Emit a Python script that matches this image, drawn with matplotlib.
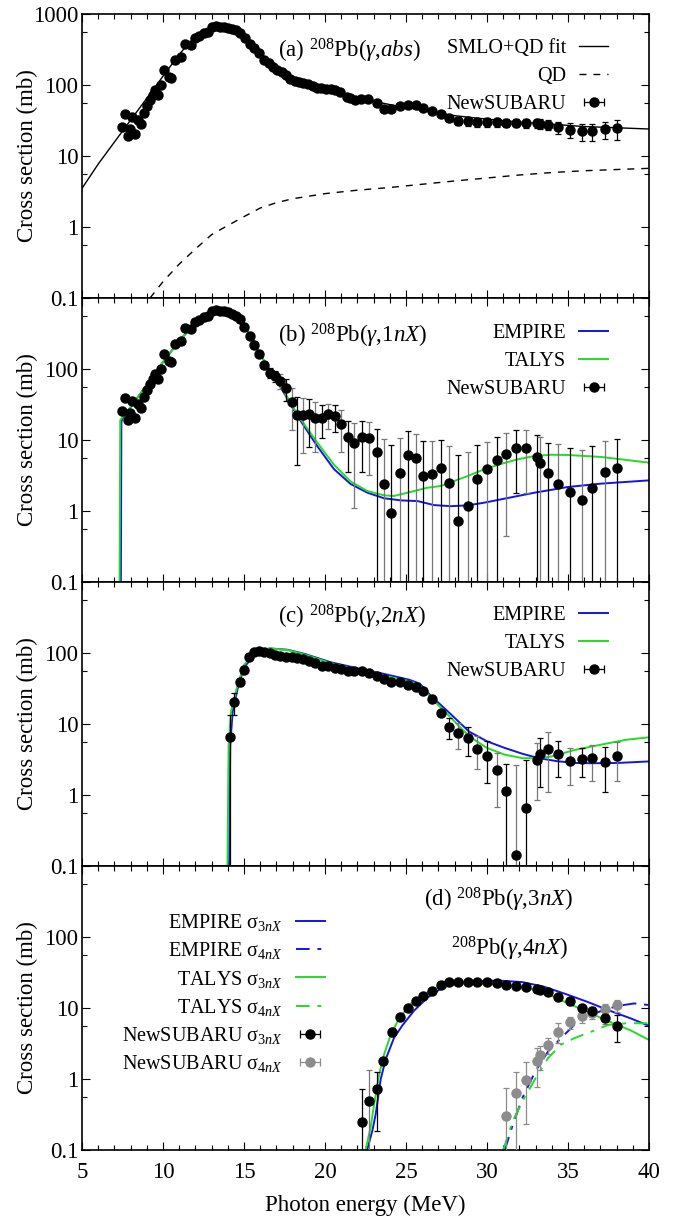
import numpy as np
import matplotlib
matplotlib.use('Agg')
import matplotlib.pyplot as plt
from matplotlib.ticker import FixedLocator, NullFormatter

plt.rcParams['font.family'] = ['Liberation Serif', 'DejaVu Serif']
plt.rcParams['mathtext.fontset'] = 'custom'
plt.rcParams['mathtext.rm'] = 'Liberation Serif'
plt.rcParams['mathtext.it'] = 'Liberation Serif:italic'
plt.rcParams['mathtext.bf'] = 'Liberation Serif:bold'

# ---------------- data: panel (a) photoabsorption ----------------
E_a = [7.49, 7.68, 7.82, 7.98, 8.11, 8.27, 8.46, 8.65, 8.83, 9.02, 9.18, 9.37, 9.50, 9.69, 9.88,
       10.09, 10.34, 10.52, 10.76, 11.11, 11.38, 11.70, 11.97, 12.24, 12.53, 12.80, 13.04, 13.26,
       13.53, 13.79, 14.04, 14.28, 14.52, 14.73, 15.05, 15.35, 15.64, 15.94, 16.23, 16.53, 16.80,
       17.06, 17.33, 17.60, 17.87, 18.14, 18.40, 18.67, 18.97, 19.24, 19.50, 19.77, 20.04, 20.36,
       20.63, 20.90, 21.35, 21.57, 21.84, 22.24, 22.67, 23.18, 23.63, 24.10, 24.60, 25.10, 25.60,
       26.07, 26.60, 27.14, 27.68, 28.20, 28.80, 29.40, 30.00, 30.60, 31.20, 31.80, 32.40, 33.10,
       33.30, 33.77, 34.40, 35.10, 35.86, 36.50, 37.30, 38.00]
sig_a = [26, 38.6, 18.9, 24, 36, 20.6, 31.8, 28.5, 40, 50, 62, 73, 84, 72, 99, 165, 130, 127, 224,
         244, 384, 365, 453, 489, 533, 563, 649, 677, 662, 649, 641, 620, 591, 545, 453, 373, 334,
         278, 224, 201, 180, 165, 153, 137, 123, 113, 111, 105, 102, 96, 92, 92, 89, 89, 86, 80, 68,
         66, 62, 64, 64, 55, 46, 46, 50, 53, 52, 48, 43, 39.5, 34.7, 31, 30.8, 30, 30, 29.8, 29.5,
         29.5, 29, 29, 28.5, 27.6, 25.6, 23.6, 22.3, 22.3, 24, 24.5]
err_a = [1, 1.5, 1, 1, 1.5, 1, 1.5, 1.5, 2, 2, 2.5, 3, 3, 3, 4, 6,
         5, 5, 8, 8, 12, 12, 14, 15, 16, 17, 18, 19, 19, 18, 18, 17, 16, 15, 14, 12, 11, 10, 9, 8, 8,
         9, 9, 9, 9, 9, 9, 9, 9, 8, 8, 8, 8, 7, 7, 7, 6, 6, 6, 6, 6,
         5, 5, 5, 4, 4, 4, 4, 4, 3.5, 3.5, 4, 4, 4, 4, 4, 4, 4, 4.5, 4.5, 4.5, 4.5, 5, 5.5, 6, 6,
         6.5, 7.5]

fit_E = [5, 6, 7, 8, 9, 10, 11, 11.5, 12, 12.5, 13, 13.5, 14, 14.5, 15, 15.5, 16, 16.5, 17, 17.5,
         18, 19, 20, 21, 22, 23, 24, 26, 28, 30, 32, 34, 36, 38, 40]
fit_sig = [3.5, 7.7, 15.7, 32, 65, 133, 270, 365, 450, 540, 625, 660, 630, 580, 470, 370, 270, 205,
           168, 140, 118, 98, 86, 76, 67, 59, 53, 44, 37, 33, 30, 28, 26, 25, 24]
qd_E = [9.2, 10, 11, 12, 13, 13.4, 14, 15, 16, 17, 18, 20, 22, 24, 26, 28, 30, 32, 34, 36, 38, 40]
qd_sig = [0.1, 0.17, 0.3, 0.49, 0.78, 0.88, 1.05, 1.4, 1.85, 2.2, 2.5, 2.95, 3.3, 3.6, 4.0, 4.45,
          4.9, 5.4, 5.85, 6.2, 6.45, 6.7]

# ---------------- panel (b) (g,1nX) ----------------
E_b = [7.49, 7.68, 7.82, 7.98, 8.11, 8.27, 8.46, 8.65, 8.83, 9.02, 9.18, 9.37, 9.50, 9.69, 9.88,
       10.09, 10.34, 10.52, 10.76, 11.11, 11.38, 11.70, 11.97, 12.24, 12.53, 12.80, 13.04, 13.26,
       13.53, 13.79, 14.04, 14.28, 14.52, 14.73,
       15.0, 15.35, 15.6, 15.94, 16.26, 16.58, 16.9, 17.22, 17.57, 17.95, 18.3, 18.67, 19.0, 19.4,
       19.8, 20.2, 20.6, 21.0, 21.4, 21.8, 22.3, 22.72, 23.18, 23.63, 24.1, 24.6, 25.1, 25.6,
       26.07, 26.6, 27.14, 27.68, 28.2, 28.8, 29.4, 30.0, 30.6, 31.2, 31.8, 32.4, 33.1, 33.3,
       33.77, 34.4, 35.1, 35.86, 36.5, 37.3, 38.0]
sig_b = [26, 38.6, 18.9, 24, 36, 20.6, 31.8, 28.5, 40, 50, 62, 73, 84, 72, 99, 165, 130, 127, 224,
         244, 384, 365, 453, 489, 533, 563, 649, 677, 662, 649, 630, 600, 560, 500,
         390, 288, 221, 164, 113, 89, 80, 68, 53.5, 34, 22.5, 22.5, 23, 20.7, 20.7, 23.3, 22, 16.7,
         11, 9.1, 11, 10.7, 6.8, 2.4, 0.94, 3.4, 6.2, 5.5, 3.1, 3.3, 4.0, 2.45, 0.72, 1.19, 2.8,
         3.86, 5.3, 6.45, 7.8, 7.8, 5.7, 4.8, 3.4, 2.4, 1.88, 1.44, 2.1, 3.57, 4.06]
err_b = [1, 1.5, 1, 1, 1.5, 1, 1.5, 1.5, 2, 2, 2.5, 3, 3, 3, 4, 6,
         5, 5, 8, 8, 12, 12, 14, 15, 16, 17, 18, 19, 19, 18, 18, 17, 16, 15,
         10, 10, 10, 10, 12, 14, 15, 16, 18, 20, 18, 16, 15, 14, 10, 9, 9, 10, 7.5, 8,
         7.5, 7.5, 7.3, 7.8, 7.5, 7.4, 7.2, 6.8, 6.6, 6.4, 6, 5.8, 5.4, 5.6, 5.7, 5.5, 5.7, 6, 6, 6,
         6, 6.2, 5.7, 6.3, 5.9, 5.8, 6, 6, 6.4]

emp_b_E = [7.40, 7.43, 7.5, 8, 9, 10, 11, 12, 12.5, 13, 13.5, 14, 14.5, 15, 15.5, 16, 16.5, 17.05,
           17.6, 18.29, 19.52, 20.55, 21.58, 22.62, 23.65, 24.7, 25.71, 26.74, 27.78, 28.8, 29.83,
           30.87, 32.93, 35.0, 37.05, 40.0]
emp_b = [0.1, 18, 20, 29, 60, 125, 250, 440, 540, 620, 650, 610, 520, 400, 280, 160, 105, 66, 41,
         21.9, 8.2, 3.9, 2.4, 1.81, 1.51, 1.41, 1.38, 1.21, 1.17, 1.2, 1.31, 1.46, 1.81, 2.18, 2.43,
         2.7]
tal_b_E = [7.32, 7.36, 7.5, 8, 9, 10, 11, 12, 12.5, 13, 13.5, 14, 14.5, 15, 15.5, 16, 16.5, 17.05,
           17.6, 18.29, 19.52, 20.55, 21.58, 22.62, 23.65, 24.26, 25.09, 26.33, 27.15, 27.98, 28.8,
           29.83, 30.87, 31.9, 32.93, 33.96, 35.0, 37.05, 38.7, 40.0]
tal_b = [0.1, 19, 21, 29, 60, 125, 250, 440, 540, 620, 650, 610, 520, 400, 280, 160, 105, 68, 43,
         23, 9.2, 4.5, 2.6, 1.91, 1.66, 1.63, 1.81, 2.13, 2.25, 2.65, 3.1, 3.87, 4.6, 5.35, 5.95,
         6.2, 6.15, 5.77, 5.2, 4.8]

# ---------------- panel (c) (g,2nX) ----------------
E_c = [14.14, 14.41, 14.73, 15.0, 15.32, 15.62, 15.94, 16.26, 16.58, 16.9, 17.22, 17.57, 17.95,
       18.3, 18.67, 19.0, 19.4, 19.8, 20.2, 20.6, 21.0, 21.4, 21.8, 22.3, 22.72, 23.18, 23.63,
       24.1, 24.6, 25.1, 25.6, 26.07, 26.6, 27.14, 27.68, 28.2, 28.8, 29.4, 30.0, 30.6, 31.2,
       31.8, 32.4, 33.1, 33.3, 33.77, 34.4, 35.1, 35.86, 36.5, 37.3, 38.0]
sig_c = [6.5, 20.5, 39, 58.5, 87, 102, 108, 104, 100, 94, 91, 89, 87, 85, 82, 78, 72.5, 66.5, 65,
         62, 60, 56, 55, 55, 52, 48, 42.5, 39, 39, 35.7, 33, 28.8, 22.3, 14.4, 9.2, 7.4, 6.3, 4.5,
         3.57, 2.28, 1.14, 0.141, 0.65, 3.15, 3.78, 4.4, 3.8, 2.98, 3.2, 3.3, 2.92, 3.6]
err_c = [7, 7, 5, 7, 6, 5, 4, 4, 4, 4, 4, 4, 4, 4, 4, 3, 3, 3, 3, 3, 3, 3, 3, 3, 3, 3, 3, 2.5,
         2.5, 2.5, 2.5, 2, 2, 1.5, 3, 3, 2.8, 2.2, 2.1, 1.6, 1.63, 2.5, 2.5, 2.3, 2.5, 3.3, 2.0,
         1.6, 1.4, 1.7, 1.8, 2.0]

emp_c_E = [14.08, 14.15, 14.3, 14.6, 15.0, 15.54, 16.07, 16.6, 17.7, 18.75, 20.36, 22.0, 23.6,
           25.2, 25.86, 26.5, 27.6, 28.9, 30.0, 31.1, 32.2, 33.2, 34.3, 35.4, 36.4, 38.1, 40]
emp_c = [0.1, 5, 15, 31, 63, 87, 108, 116, 111, 97, 74, 61, 51, 42, 37, 25.4, 14.9, 7.8, 5.7,
         4.6, 3.8, 3.3, 3.0, 2.83, 2.8, 2.83, 2.97]
tal_c_E = [13.98, 14.05, 14.2, 14.6, 15.0, 15.54, 16.07, 16.6, 17.7, 18.75, 20.36, 22.0, 23.6,
           25.2, 25.86, 26.5, 27.6, 28.9, 30.0, 31.1, 32.2, 33.2, 34.0, 35.4, 37.0, 38.6, 40]
tal_c = [0.1, 5, 15, 35, 68, 95, 112, 116, 110, 95, 72, 58, 48, 40, 35, 24, 13.4, 6.7, 4.6, 3.7,
         3.3, 3.3, 3.5, 4.3, 5.1, 6.0, 6.5]

# ---------------- panel (d) (g,3nX), (g,4nX) ----------------
E_d3 = [22.29, 22.72, 23.18, 23.6, 24.14, 24.6, 25.1, 25.6, 26.07, 26.6, 27.14, 27.68, 28.2,
        28.8, 29.4, 30.0, 30.6, 31.2, 31.8, 32.4, 33.1, 33.3, 33.77, 34.4, 35.1, 35.86, 36.5,
        37.3, 38.0]
sig_d3 = [0.25, 0.486, 0.715, 1.77, 4.65, 7.5, 10.1, 12.6, 14.8, 17.3, 20.8, 23.1, 23.6, 23.1,
          23.1, 23.1, 22.4, 21.2, 20.3, 19.7, 18.7, 18.1, 16.8, 14.3, 12.4, 10.0, 9.0, 7.3, 5.6]
err_d3 = [0.48, 0.85, 0.53, 0.2, 0.6, 0.6, 0.7, 0.8, 0.9, 1.2, 1.2, 1.0, 1.0, 1.0, 1.0, 1.0, 1.0,
          1.0, 1.0, 1.0, 1.2, 1.2, 1.2, 1.5, 1.3, 1.2, 1.2, 1.4, 2.3]
E_d4 = [31.2, 31.8, 32.4, 33.1, 33.3, 33.77, 34.4, 35.1, 35.86, 36.5, 37.3, 38.0]
sig_d4 = [0.304, 0.643, 0.975, 1.77, 2.15, 3.03, 4.65, 6.27, 7.7, 8.55, 9.8, 10.9]
err_d4 = [0.45, 0.6, 0.74, 1.0, 0.8, 0.8, 1.4, 1.2, 1.6, 1.5, 1.6, 2.0]

emp3_E = [22.6, 22.93, 23.13, 23.44, 23.75, 24.26, 24.78, 25.5, 26.33, 27.15, 27.98, 29.0, 30.8,
          32.2, 33.5, 34.8, 36.2, 37.5, 38.9, 40]
emp3 = [0.1, 0.19, 0.32, 1.0, 1.9, 3.8, 5.7, 9.2, 14, 18.7, 22.3, 23.8, 24.3, 23.1, 20, 15.9,
        12.2, 9.3, 7.1, 5.6]
tal3_E = [22.5, 22.82, 23.03, 23.34, 23.64, 24.06, 24.57, 25.3, 26.12, 27.15, 28.2, 29.5, 30.8,
          32.2, 33.5, 34.8, 36.2, 37.5, 38.9, 40]
tal3 = [0.1, 0.21, 0.44, 1.15, 2.2, 4.2, 7.1, 11.5, 15.8, 20, 21.9, 22, 21.2, 19.7, 16.8, 12.2,
        8.8, 6.5, 4.8, 3.55]
emp4_E = [31.1, 31.6, 32.2, 33.0, 33.77, 34.57, 35.4, 36.2, 37.0, 38.05, 39.1, 40]
emp4 = [0.1, 0.23, 0.55, 1.3, 2.44, 3.77, 5.8, 7.5, 9.0, 10.7, 11.6, 11.0]
tal4_E = [31.0, 31.6, 32.2, 33.0, 33.77, 34.57, 35.4, 36.45, 37.5, 38.6, 40]
tal4 = [0.1, 0.26, 0.49, 1.03, 1.97, 3.05, 3.77, 4.65, 5.8, 6.1, 6.1]

x_ticks = [5, 10, 15, 20, 25, 30, 35, 40]
y_ticks = [0.1, 1, 10, 100, 1000]
y_ticklabels = ['0.1', '1', '10', '100', '1000']

# ---------------- styling ----------------
FS = 16.5
LFS = 14.5
BLUE = '#1414e6'
GREEN = '#22dd22'
GRAY_BAR = '#777777'
GRAY_PT = '#8c8c8c'

fig = plt.figure(figsize=(6.8, 12.19), dpi=100)
L = 82 / 680
W = (649 - 82) / 680
H = 284 / 1219
B0 = 1 - 1150 / 1219
axes = [fig.add_axes([L, B0 + (3 - i) * H, W, H]) for i in range(4)]


def style(ax, idx):
    ax.set_yscale('log')
    ax.set_xlim(5, 40)
    ax.set_ylim(0.1, 1000)
    ax.set_xticks(x_ticks)
    ax.xaxis.set_minor_locator(FixedLocator(list(range(5, 41))))
    ax.set_yticks(y_ticks)
    labs = list(y_ticklabels)
    if idx > 0:
        labs[-1] = ''
    ax.set_yticklabels(labs)
    ax.yaxis.set_minor_locator(FixedLocator([0.55, 5.5, 55, 550]))
    ax.yaxis.set_minor_formatter(NullFormatter())
    ax.tick_params(which='both', direction='in', top=True, right=True, width=0.8,
                   labelsize=FS)
    ax.tick_params(which='major', length=6)
    ax.tick_params(which='minor', length=3.5)
    ax.tick_params(axis='y', pad=2.5)
    ax.tick_params(axis='x', pad=9)
    if idx < 3:
        ax.tick_params(axis='x', labelbottom=False)
    for s in ax.spines.values():
        s.set_linewidth(1.2)
    ax.set_ylabel('Cross section (mb)', fontsize=FS)
    ax.yaxis.set_label_coords(-0.078, 0.5)


def data(ax, E, s, e, alt=None, color='k', barcolor='k'):
    E = np.asarray(E, float)
    s = np.asarray(s, float)
    e = np.asarray(e, float)
    lo = np.minimum(e, s - 1e-4)
    idx = np.arange(len(E))
    if alt is None:
        groups = [(np.ones(len(E), bool), barcolor)]
    else:
        gray = (idx % 2 == 1) & (E > alt)
        groups = [(~gray, barcolor), (gray, GRAY_BAR)]
    for m, c in groups:
        if m.any():
            ax.errorbar(E[m], s[m], yerr=[lo[m], e[m]], fmt='none', ecolor=c,
                        elinewidth=0.9, capsize=2.2, capthick=0.9, zorder=3)
    ax.plot(E, s, 'o', color=color, ms=6.5, mec=color, zorder=4)


def proxy(ax, color, label):
    return ax.errorbar([np.nan], [np.nan], xerr=[[1], [1]], fmt='o', color=color, ms=6.5,
                       ecolor=color, elinewidth=0.9, capsize=3, capthick=0.9, label=label)


for i, ax in enumerate(axes):
    style(ax, i)

leg_kw = dict(loc='upper right', frameon=False, fontsize=LFS, markerfirst=False,
              handlelength=1.45, handletextpad=0.65, borderpad=0, borderaxespad=0,
              labelspacing=0.43)

# (a)
ax = axes[0]
l1, = ax.plot(fit_E, fit_sig, '-', color='k', lw=1.0, zorder=2, label='SMLO+QD fit')
l2, = ax.plot(qd_E, qd_sig, '--', color='k', lw=1.0, dashes=(5, 5), zorder=2, label='QD')
data(ax, E_a, sig_a, err_a)
p = proxy(ax, 'k', 'NewSUBARU')
ax.legend(handles=[l1, l2, p], bbox_to_anchor=(0.928, 0.912), **leg_kw)
ax.text(0.3457, 0.870, r'(a) $^{208}$Pb($\gamma$,$\mathit{abs}$)', transform=ax.transAxes,
        fontsize=FS, ha='left', va='center')

# (b)
ax = axes[1]
b1, = ax.plot(emp_b_E, emp_b, '-', color=BLUE, lw=1.4, zorder=2, label='EMPIRE')
b2, = ax.plot(tal_b_E, tal_b, '-', color=GREEN, lw=1.4, zorder=2, label='TALYS')
data(ax, E_b, sig_b, err_b, alt=17.0)
p = proxy(ax, 'k', 'NewSUBARU')
ax.legend(handles=[b1, b2, p], bbox_to_anchor=(0.928, 0.908), **leg_kw)
ax.text(0.3457, 0.868, r'(b) $^{208}$Pb($\gamma$,$\mathit{1nX}$)', transform=ax.transAxes,
        fontsize=FS, ha='left', va='center')

# (c)
ax = axes[2]
c1, = ax.plot(emp_c_E, emp_c, '-', color=BLUE, lw=1.4, zorder=2, label='EMPIRE')
c2, = ax.plot(tal_c_E, tal_c, '-', color=GREEN, lw=1.4, zorder=2, label='TALYS')
data(ax, E_c, sig_c, err_c, alt=27.0)
p = proxy(ax, 'k', 'NewSUBARU')
ax.legend(handles=[c1, c2, p], bbox_to_anchor=(0.928, 0.915), **leg_kw)
ax.text(0.3457, 0.876, r'(c) $^{208}$Pb($\gamma$,$\mathit{2nX}$)', transform=ax.transAxes,
        fontsize=FS, ha='left', va='center')

# (d)
ax = axes[3]
d1, = ax.plot(emp3_E, emp3, '-', color=BLUE, lw=1.4, zorder=2,
              label=r'EMPIRE σ$_{\mathit{3nX}}$')
d2, = ax.plot(emp4_E, emp4, '-', color=BLUE, lw=1.4, dashes=(7, 4, 2, 4), zorder=2,
              label=r'EMPIRE σ$_{\mathit{4nX}}$')
d3, = ax.plot(tal3_E, tal3, '-', color=GREEN, lw=1.4, zorder=2,
              label=r'TALYS σ$_{\mathit{3nX}}$')
d4, = ax.plot(tal4_E, tal4, '-', color=GREEN, lw=1.4, dashes=(7, 4, 2, 4), zorder=2,
              label=r'TALYS σ$_{\mathit{4nX}}$')
data(ax, E_d4, sig_d4, err_d4, color=GRAY_PT, barcolor=GRAY_PT)
data(ax, E_d3, sig_d3, err_d3, alt=0.0)
p3 = proxy(ax, 'k', r'NewSUBARU σ$_{\mathit{3nX}}$')
p4 = proxy(ax, GRAY_PT, r'NewSUBARU σ$_{\mathit{4nX}}$')
kw = dict(leg_kw)
kw['labelspacing'] = 0.36
ax.legend(handles=[d1, d2, d3, d4, p3, p4], bbox_to_anchor=(0.4286, 0.838), **kw)
ax.text(0.866, 0.880, r'(d) $^{208}$Pb($\gamma$,$\mathit{3nX}$)', transform=ax.transAxes,
        fontsize=FS, ha='right', va='center')
ax.text(0.857, 0.708, r'$^{208}$Pb($\gamma$,$\mathit{4nX}$)', transform=ax.transAxes,
        fontsize=FS, ha='right', va='center')
ax.set_xlabel('Photon energy (MeV)', fontsize=FS, labelpad=8)

fig.savefig('out.png', dpi=100)
